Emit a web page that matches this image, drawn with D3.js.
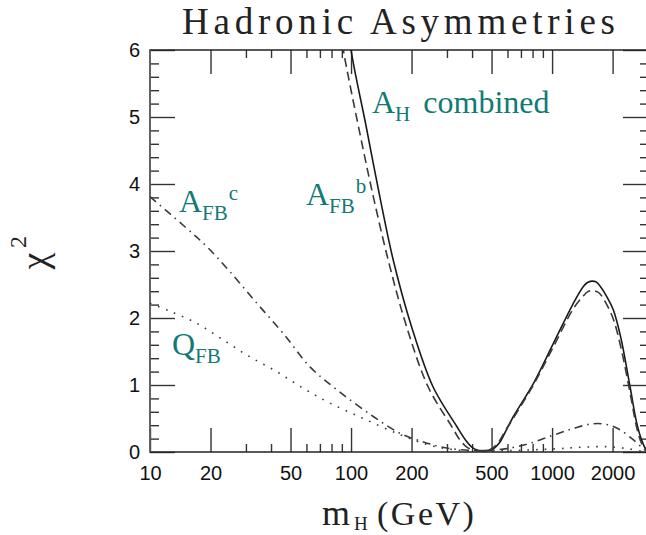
<!DOCTYPE html>
<html>
<head>
<meta charset="utf-8">
<script src="https://cdn.jsdelivr.net/npm/d3@7"></script>
<style>
body { margin: 0; background: #fff; }
</style>
</head>
<body>
<svg id="chart" width="646" height="535"></svg>
<script>
// values: Higgs mass (GeV) and chi^2
var combinedMass = [95, 100, 105, 118, 138, 162, 200, 256, 336, 369, 400, 428, 464, 503, 545, 590, 642, 807, 1015, 1276, 1431, 1500, 1576, 1650, 1720, 1871, 2018, 2200, 2444, 2638, 2795, 2940, 3000]
var combinedChi2 = [6.5, 6.0, 5.65, 4.91, 3.86, 2.87, 1.87, 0.97, 0.38, 0.19, 0.07, 0.025, 0.015, 0.035, 0.13, 0.32, 0.53, 1.02, 1.62, 2.22, 2.47, 2.53, 2.55, 2.54, 2.49, 2.32, 2.12, 1.70, 0.97, 0.43, 0.17, 0.03, 0.0]

var afbbMass = [87, 91.6, 97, 109, 128, 155, 189, 242, 317, 348, 378, 411, 447, 490, 536, 583, 640, 807, 1015, 1276, 1431, 1500, 1576, 1650, 1720, 1871, 2018, 2200, 2444, 2638, 2795, 2940, 3000]
var afbbChi2 = [6.5, 6.0, 5.6, 4.85, 3.86, 2.8, 1.87, 0.97, 0.38, 0.18, 0.07, 0.025, 0.015, 0.035, 0.13, 0.31, 0.5, 1.0, 1.57, 2.14, 2.33, 2.39, 2.41, 2.40, 2.37, 2.20, 1.98, 1.56, 0.88, 0.36, 0.12, 0.02, 0.0]

var afbcMass = [10, 15.2, 19.1, 25, 34, 46, 62.5, 85, 129, 175, 229, 299, 391, 480, 595, 777, 1010, 1276, 1576, 1871, 2180, 2540, 2846, 3000]
var afbcChi2 = [3.81, 3.34, 3.07, 2.69, 2.22, 1.77, 1.27, 0.93, 0.53, 0.28, 0.15, 0.06, 0.025, 0.025, 0.05, 0.13, 0.25, 0.35, 0.42, 0.41, 0.33, 0.18, 0.05, 0.0]

var qfbMass = [10, 12.6, 17.1, 23.2, 31.4, 42.7, 57.9, 78.6, 115, 175, 247, 336, 430, 600, 1010, 1380, 1871, 2370, 2830, 3000]
var qfbChi2 = [2.22, 2.10, 1.92, 1.67, 1.42, 1.20, 0.95, 0.73, 0.50, 0.26, 0.10, 0.03, 0.015, 0.02, 0.045, 0.07, 0.08, 0.05, 0.01, 0.0]

var massTicks = [10, 20, 50, 100, 200, 500, 1000, 2000]
var massMinorTicks = [30, 40, 60, 70, 80, 90, 300, 400, 600, 700, 800, 900]
var chi2Ticks = [0, 1, 2, 3, 4, 5, 6]

var chart = {
	left: 150, right: 648, top: 50, bottom: 452
}

var svg = d3.select("#chart")

var x = d3.scaleLog().domain([10, 3000]).range([chart.left, chart.right])
var y = d3.scaleLinear().domain([0, 6]).range([chart.bottom, chart.top])

var chi2Minor = d3.range(0.2, 6, 0.2).filter(function(v){
	return Math.abs(v - Math.round(v)) > 0.01
})

function styleAxis(g) {
	g.select(".domain").remove()
	g.selectAll(".tick line").attr("stroke", "#333").attr("stroke-width", 1.4)
	g.selectAll(".tick text")
		.attr("fill", "#111")
		.style("font-family", "'Liberation Sans', Arial, sans-serif")
		.style("font-size", "20px")
}

// bottom
svg.append("g")
	.attr("transform", "translate(0," + chart.bottom + ")")
	.call(d3.axisBottom(x).tickValues(massTicks).tickFormat(d3.format("d")).tickSize(-24).tickPadding(14))
	.call(styleAxis)
svg.append("g")
	.attr("transform", "translate(0," + chart.bottom + ")")
	.call(d3.axisBottom(x).tickValues(massMinorTicks).tickFormat("").tickSize(-8))
	.call(styleAxis)
// top
svg.append("g")
	.attr("transform", "translate(0," + chart.top + ")")
	.call(d3.axisTop(x).tickValues(massTicks.slice(1)).tickFormat("").tickSize(-24))
	.call(styleAxis)
svg.append("g")
	.attr("transform", "translate(0," + chart.top + ")")
	.call(d3.axisTop(x).tickValues(massMinorTicks).tickFormat("").tickSize(-8))
	.call(styleAxis)
// left
svg.append("g")
	.attr("transform", "translate(" + chart.left + ",0)")
	.call(d3.axisLeft(y).tickValues(chi2Ticks).tickFormat(d3.format("d")).tickSize(-25).tickPadding(10))
	.call(styleAxis)
svg.append("g")
	.attr("transform", "translate(" + chart.left + ",0)")
	.call(d3.axisLeft(y).tickValues(chi2Minor).tickFormat("").tickSize(-9))
	.call(styleAxis)
// right
svg.append("g")
	.attr("transform", "translate(" + chart.right + ",0)")
	.call(d3.axisRight(y).tickValues(chi2Ticks).tickFormat("").tickSize(-25))
	.call(styleAxis)
svg.append("g")
	.attr("transform", "translate(" + chart.right + ",0)")
	.call(d3.axisRight(y).tickValues(chi2Minor).tickFormat("").tickSize(-8))
	.call(styleAxis)

svg.append("rect")
	.attr("x", chart.left)
	.attr("y", chart.top)
	.attr("width", chart.right - chart.left)
	.attr("height", chart.bottom - chart.top)
	.attr("fill", "none")
	.attr("stroke", "#222")
	.attr("stroke-width", 1.5)
svg.append("line")
	.attr("x1", chart.left).attr("x2", chart.left)
	.attr("y1", chart.top).attr("y2", chart.bottom)
	.attr("stroke", "#666")
	.attr("stroke-width", 1.6)

svg.append("clipPath").attr("id", "plotclip")
	.append("rect")
	.attr("x", chart.left)
	.attr("y", chart.top)
	.attr("width", chart.right - chart.left)
	.attr("height", chart.bottom - chart.top)

var series = [
	{mass: combinedMass, chi2: combinedChi2, dash: null, color: "#1a1a1a"},
	{mass: afbbMass, chi2: afbbChi2, dash: "9,5", color: "#3a3a3a"},
	{mass: afbcMass, chi2: afbcChi2, dash: "8,5,1.5,5", color: "#3a3a3a"},
	{mass: qfbMass, chi2: qfbChi2, dash: "1.6,7", color: "#3a3a3a"}
]

var line = d3.line()
	.x(function(d){ return x(d[0]) })
	.y(function(d){ return y(d[1]) })
	.curve(d3.curveCatmullRom.alpha(0.5))

svg.append("g")
	.attr("clip-path", "url(#plotclip)")
	.selectAll("path")
	.data(series)
	.enter()
	.append("path")
	.attr("d", function(d){
		return line(d.mass.map(function(m, i){ return [m, d.chi2[i]] }))
	})
	.attr("fill", "none")
	.attr("stroke", function(d){ return d.color })
	.attr("stroke-width", 1.6)
	.attr("stroke-dasharray", function(d){ return d.dash })

// curve labels
var teal = "#127a75"
var labels = [
	{x: 372, y: 113, main: "A", sub: "H", sup: null, rest: "combined"},
	{x: 306, y: 205, main: "A", sub: "FB", sup: "b", rest: null},
	{x: 179, y: 212, main: "A", sub: "FB", sup: "c", rest: null},
	{x: 172, y: 355, main: "Q", sub: "FB", sup: null, rest: null}
]
labels.forEach(function(l){
	var t = svg.append("text")
		.attr("x", l.x)
		.attr("y", l.y)
		.attr("fill", teal)
		.style("font-family", "'Liberation Serif', 'Times New Roman', serif")
		.style("font-size", "32px")
		.text(l.main)
	t.append("tspan").attr("dy", 8).style("font-size", "21px").text(l.sub)
	if (l.sup) t.append("tspan").attr("dy", -20).attr("dx", 1).style("font-size", "21px").text(l.sup)
	if (l.rest) t.append("tspan").attr("dy", -8).attr("dx", 13).style("font-size", "32px").text(l.rest)
})

// title
svg.append("text")
	.attr("x", 182)
	.attr("y", 34)
	.attr("textLength", 433)
	.attr("lengthAdjust", "spacing")
	.attr("fill", "#222")
	.style("font-family", "'Liberation Serif', serif")
	.style("font-size", "37px")
	.text("Hadronic Asymmetries")

// x label
var xLabelFont = "'Liberation Serif', serif"
svg.append("text")
	.attr("x", 322).attr("y", 525)
	.attr("fill", "#222")
	.style("font-family", xLabelFont)
	.style("font-size", "36px")
	.text("m")
svg.append("text")
	.attr("x", 354).attr("y", 530)
	.attr("fill", "#222")
	.style("font-family", xLabelFont)
	.style("font-size", "19px")
	.text("H")
svg.append("text")
	.attr("x", 377).attr("y", 525)
	.attr("fill", "#222")
	.style("font-family", xLabelFont)
	.style("font-size", "34px")
	.style("letter-spacing", "2.5px")
	.text("(GeV)")

// y label
svg.append("text")
	.attr("transform", "translate(47,261) rotate(-90)")
	.attr("text-anchor", "middle")
	.attr("fill", "#222")
	.style("font-family", "'Liberation Serif', serif")
	.style("font-size", "38px")
	.text("χ")
svg.append("text")
	.attr("transform", "translate(26,242) rotate(-90)")
	.attr("text-anchor", "middle")
	.attr("fill", "#222")
	.style("font-family", "'Liberation Serif', serif")
	.style("font-size", "24px")
	.text("2")
</script>
</body>
</html>
